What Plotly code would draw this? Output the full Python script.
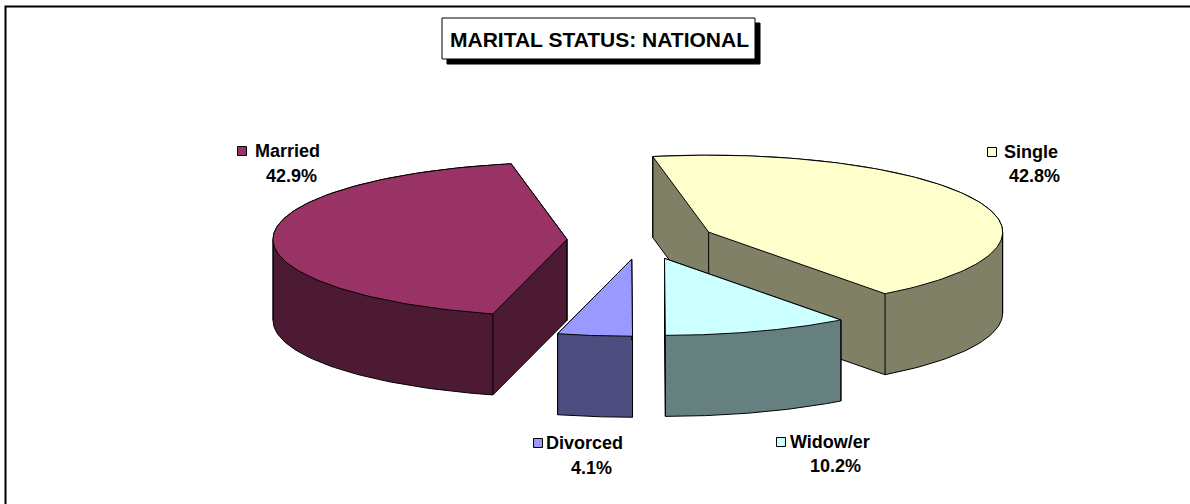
import numpy as np
import plotly.graph_objects as go

# ---------------- data ----------------
categories = ["Married", "Single", "Widow/er", "Divorced"]
values = [42.9, 42.8, 10.2, 4.1]
pct_labels = ["42.9%", "42.8%", "10.2%", "4.1%"]
title_text = "MARITAL STATUS: NATIONAL"

# ---------------- style ----------------
top_colors = ["#993366", "#FFFFCC", "#CCFFFF", "#9999FF"]
side_colors = ["#4D1A33", "#808066", "#668080", "#4D4D80"]

W, H = 1190, 504
S = 294.0            # pixels per pie-radius unit
CXP, CYP = 641, 240  # pixel position of the pie centre
TILT = 77 / S        # vertical squash of the top ellipse
DEPTH = 81 / S       # thickness of the pie
EXPLODE = 74 / S     # explosion distance
START = -104.6       # start angle (deg), slices run clockwise

FONT = "Liberation Sans, Arial, sans-serif"

# label placement (pixels): key square centre, name left edge, pct centre
label_pos = {
    "Married": dict(key=(242, 151), name=(253, 151), pct=(291, 176)),
    "Single": dict(key=(992, 152), name=(1002, 152), pct=(1034, 176)),
    "Widow/er": dict(key=(781, 442), name=(788, 442), pct=(836, 466)),
    "Divorced": dict(key=(538, 443), name=(544, 443), pct=(591, 468)),
}

xr = [-CXP / S, (W - CXP) / S]
yr = [-(H - CYP) / S, CYP / S]


def hull(points):
    pts = sorted(set(points))
    if len(pts) <= 2:
        return pts

    def cross(o, a, b):
        return (a[0] - o[0]) * (b[1] - o[1]) - (a[1] - o[1]) * (b[0] - o[0])

    lower, upper = [], []
    for p in pts:
        while len(lower) >= 2 and cross(lower[-2], lower[-1], p) <= 0:
            lower.pop()
        lower.append(p)
    for p in reversed(pts):
        while len(upper) >= 2 and cross(upper[-2], upper[-1], p) <= 0:
            upper.pop()
        upper.append(p)
    return lower[:-1] + upper[:-1]


total = sum(values)
slices = []
a = START
for i, v in enumerate(values):
    span = 360.0 * v / total
    a1, a2 = a, a - span
    a = a2
    mid = np.radians((a1 + a2) / 2)
    ox = EXPLODE * np.cos(mid)
    oy = EXPLODE * TILT * np.sin(mid)
    t = np.radians(np.linspace(a1, a2, 120))
    ax = ox + np.cos(t)
    ay = oy + TILT * np.sin(t)
    top_x = [ox] + list(ax) + [ox]
    top_y = [oy] + list(ay) + [oy]
    pts = [(round(x, 6), round(y, 6)) for x, y in zip(top_x, top_y)]
    pts += [(x, round(y - DEPTH, 6)) for x, y in pts]
    hp = hull(pts)
    hx = [p[0] for p in hp] + [hp[0][0]]
    hy = [p[1] for p in hp] + [hp[0][1]]
    # vertical edges: vertex, rim ends, silhouette extremes
    vx = [ox, ax[0], ax[-1]]
    lo, hi = min(a1, a2), max(a1, a2)
    for k in range(-3, 4):
        ang = 180 * k
        if lo < ang < hi:
            vx.append(ox + np.cos(np.radians(ang)))
    vy_top = [oy, ay[0], ay[-1]] + [oy] * (len(vx) - 3)
    lx, ly = [], []
    for x, y in zip(vx, vy_top):
        lx += [x, x, None]
        ly += [y, y - DEPTH, None]
    slices.append(dict(i=i, depth_key=np.sin(mid), top=(top_x, top_y),
                       hull=(hx, hy), vlines=(lx, ly)))

fig = go.Figure()
for s in sorted(slices, key=lambda d: -d["depth_key"]):
    i = s["i"]
    fig.add_trace(go.Scatter(x=s["hull"][0], y=s["hull"][1], mode="lines",
                             fill="toself", fillcolor=side_colors[i],
                             line=dict(color="black", width=1),
                             hoverinfo="skip", showlegend=False))
    fig.add_trace(go.Scatter(x=s["vlines"][0], y=s["vlines"][1], mode="lines",
                             line=dict(color="black", width=1),
                             hoverinfo="skip", showlegend=False))
    fig.add_trace(go.Scatter(x=s["top"][0], y=s["top"][1], mode="lines",
                             fill="toself", fillcolor=top_colors[i],
                             line=dict(color="black", width=1),
                             name=categories[i], hoverinfo="name",
                             showlegend=False))


def px(x):
    return x / W


def py(y):
    return 1 - y / H


shapes = []
annotations = []
# outer chart border
shapes.append(dict(type="rect", xref="paper", yref="paper",
                   x0=px(5.5), y0=py(6.5), x1=px(W + 20), y1=py(H + 20),
                   line=dict(color="black", width=2), fillcolor="rgba(0,0,0,0)"))
# title box with shadow
shapes.append(dict(type="rect", xref="paper", yref="paper",
                   x0=px(447), y0=py(23), x1=px(760), y1=py(64),
                   line=dict(color="black", width=1), fillcolor="black"))
shapes.append(dict(type="rect", xref="paper", yref="paper",
                   x0=px(442), y0=py(18), x1=px(755), y1=py(59),
                   line=dict(color="black", width=1), fillcolor="white"))
annotations.append(dict(xref="paper", yref="paper", x=px(599), y=py(40),
                        text=title_text, showarrow=False, xanchor="center",
                        yanchor="middle",
                        font=dict(family=FONT, size=21, color="black", weight="bold")))

for i, cat in enumerate(categories):
    lp = label_pos[cat]
    kx, ky = lp["key"]
    shapes.append(dict(type="rect", xref="paper", yref="paper",
                       x0=px(kx - 4.5), y0=py(ky - 4.5), x1=px(kx + 4.5), y1=py(ky + 4.5),
                       line=dict(color="black", width=1), fillcolor=top_colors[i]))
    nx, ny = lp["name"]
    annotations.append(dict(xref="paper", yref="paper", x=px(nx), y=py(ny),
                            text=cat, showarrow=False, xanchor="left", yanchor="middle",
                            font=dict(family=FONT, size=18, color="black", weight="bold")))
    cx_, cy_ = lp["pct"]
    annotations.append(dict(xref="paper", yref="paper", x=px(cx_), y=py(cy_),
                            text=pct_labels[i], showarrow=False, xanchor="center",
                            yanchor="middle",
                            font=dict(family=FONT, size=18, color="black", weight="bold")))

fig.update_layout(
    width=W, height=H, autosize=False,
    margin=dict(l=0, r=0, t=0, b=0, pad=0),
    paper_bgcolor="white", plot_bgcolor="white",
    xaxis=dict(range=xr, visible=False, fixedrange=True),
    yaxis=dict(range=yr, visible=False, fixedrange=True),
    shapes=shapes, annotations=annotations, showlegend=False,
)

fig.write_html(
    "out.html",
    config={"displayModeBar": False},
    post_script="document.body.style.margin='0';document.body.style.overflow='hidden';",
)
